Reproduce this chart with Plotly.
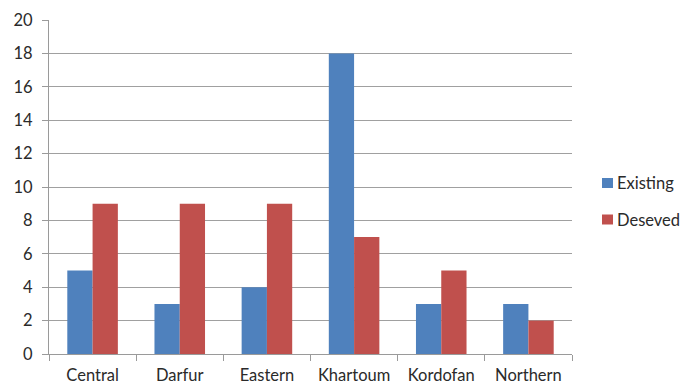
import plotly.graph_objects as go

regions = ["Central", "Darfur", "Eastern", "Khartoum", "Kordofan", "Northern"]
existing = [5, 3, 4, 18, 3, 3]
deserved = [9, 9, 9, 7, 5, 2]

series_names = ["Existing", "Deseved"]
series_values = [existing, deserved]
series_colors = ["#4F81BD", "#C0504D"]

font_family = "Lato, 'Open Sans', sans-serif"
W, H = 683, 385
margin = dict(l=49, r=111, t=20, b=31)
plot_w = W - margin["l"] - margin["r"]
plot_h = H - margin["t"] - margin["b"]

fig = go.Figure()
for name, vals, color in zip(series_names, series_values, series_colors):
    fig.add_trace(go.Bar(x=regions, y=vals, name=name,
                         marker=dict(color=color, line=dict(width=0)),
                         showlegend=False))

# Compact legend to the right of the plot: small square swatch + label
def px_to_paper(px, py):
    return (px - margin["l"]) / plot_w, (H - margin["b"] - py) / plot_h

legend_x, legend_y0, legend_step = 602, 183, 36.5
for i, (name, color) in enumerate(zip(series_names, series_colors)):
    cy = legend_y0 + i * legend_step
    x0, y0 = px_to_paper(legend_x, cy + 5)
    x1, y1 = px_to_paper(legend_x + 11, cy - 5)
    fig.add_shape(type="rect", xref="paper", yref="paper",
                  x0=x0, x1=x1, y0=y0, y1=y1,
                  fillcolor=color, line=dict(width=0))
    tx, ty = px_to_paper(legend_x + 13, cy)
    fig.add_annotation(xref="paper", yref="paper", x=tx, y=ty,
                       xanchor="left", yanchor="middle", showarrow=False,
                       text=name, font=dict(size=16.5))

fig.update_layout(
    width=W, height=H,
    margin=dict(**margin, autoexpand=False),
    paper_bgcolor="white", plot_bgcolor="white",
    barmode="group", bargap=0.42, bargroupgap=0,
    font=dict(family=font_family, size=16.5, color="#2a2a2a"),
    showlegend=False,
)
fig.update_xaxes(
    showline=True, linecolor="#9a9a9a", linewidth=1,
    ticks="outside", tickson="boundaries", ticklen=6, tickcolor="#9a9a9a",
    ticklabelstandoff=6, showgrid=False, automargin=False,
)
fig.update_yaxes(
    range=[0, 20], dtick=2, showline=True, linecolor="#9a9a9a", linewidth=1,
    ticks="outside", ticklen=6, tickcolor="#9a9a9a",
    showgrid=True, gridcolor="#a0a0a0", gridwidth=1,
    ticklabelstandoff=6, zeroline=False, automargin=False,
)

fig.write_html("out.html")
